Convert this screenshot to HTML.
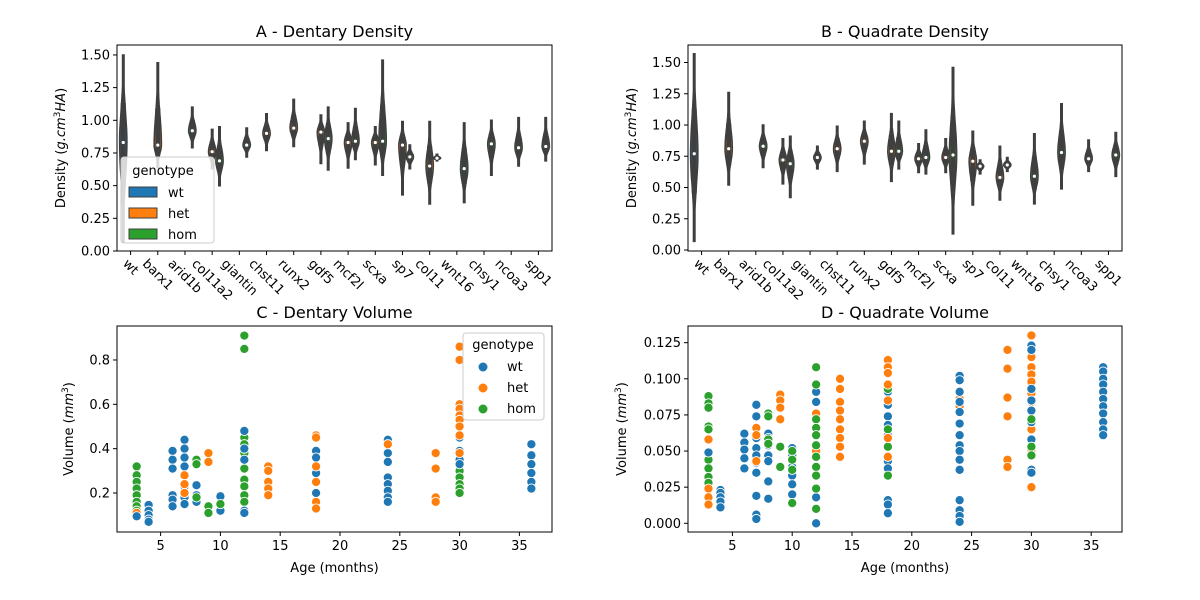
<!DOCTYPE html>
<html><head><meta charset="utf-8"><style>
body{margin:0;background:#fff}
svg{display:block;font-family:"DejaVu Sans","Liberation Sans",sans-serif}
</style></head><body>
<svg id="fig" width="1200" height="600" viewBox="0 0 1200 600">
<rect width="1200" height="600" fill="#fff"/>
</svg>
<script>
const cats = ["wt","barx1","arid1b","col11a2","giantin","chst11","runx2","gdf5","mcf2l","scxa","sp7","col11","wnt16","chsy1","ncoa3","spp1"];
// violins: [categoryIndex, hueSlot(-1 wt,0 het,1 hom), min, median, max]
const violinsA = [[0,-1,0.07,0.83,1.50],[1,0,0.64,0.81,1.44],[2,1,0.79,0.92,1.10],[3,0,0.63,0.76,0.93],[3,1,0.50,0.69,0.95],[4,1,0.72,0.81,0.94],[5,0,0.77,0.90,1.05],[6,0,0.80,0.94,1.16],[7,0,0.67,0.91,1.04],[7,1,0.62,0.86,1.10],[8,0,0.635,0.83,0.98],[8,1,0.70,0.84,1.09],[9,0,0.66,0.83,0.95],[9,1,0.58,0.84,1.46],[10,0,0.43,0.81,0.99],[10,1,0.63,0.72,0.81],[11,0,0.36,0.65,0.99],[11,1,0.69,0.71,0.74],[12,1,0.37,0.63,0.98],[13,1,0.58,0.82,1.00],[14,1,0.65,0.79,1.02],[15,1,0.69,0.80,1.02]];
const violinsB = [[0,-1,0.07,0.77,1.57],[1,0,0.52,0.81,1.26],[2,1,0.66,0.83,1.00],[3,0,0.53,0.72,0.89],[3,1,0.42,0.69,0.91],[4,1,0.65,0.74,0.83],[5,0,0.63,0.81,0.99],[6,0,0.69,0.87,1.03],[7,0,0.55,0.79,1.09],[7,1,0.65,0.79,1.03],[8,0,0.62,0.73,0.85],[8,1,0.61,0.74,0.96],[9,0,0.62,0.74,0.89],[9,1,0.13,0.76,1.46],[10,0,0.36,0.71,0.95],[10,1,0.61,0.67,0.72],[11,0,0.40,0.58,0.83],[11,1,0.63,0.68,0.74],[12,1,0.37,0.59,0.93],[13,1,0.49,0.78,1.17],[14,1,0.63,0.73,0.88],[15,1,0.59,0.76,0.94]];
// scatter C: [age, genotype(0 wt,1 het,2 hom), values...]
const volC = [
[3,2,0.32,0.28,0.25,0.22,0.19,0.16,0.14,0.12],[3,1,0.11],[3,0,0.095],
[4,0,0.146,0.12,0.10,0.08,0.07],
[6,0,0.39,0.35,0.31,0.19,0.17,0.14],
[7,0,0.44,0.40,0.36,0.32,0.23,0.18,0.15],[7,1,0.28,0.24,0.20],
[8,0,0.235,0.19,0.16],[8,2,0.35,0.33,0.18],
[9,1,0.38,0.34],[9,2,0.14,0.11],
[10,0,0.185,0.12],[10,2,0.15],
[12,2,0.91,0.85,0.45,0.42,0.38,0.31,0.26,0.23,0.19,0.16],[12,0,0.48,0.40,0.35,0.12,0.11],
[14,1,0.32,0.30,0.25,0.22,0.19],
[18,0,0.39,0.36,0.29,0.20],[18,1,0.46,0.45,0.32,0.25,0.16,0.13],
[24,0,0.44,0.38,0.34,0.27,0.24,0.21,0.18,0.16],[24,1,0.42],
[28,1,0.38,0.31,0.18,0.16],
[30,2,0.30,0.27,0.24,0.22,0.20],[30,0,0.45,0.39,0.35,0.33],[30,1,0.86,0.80,0.60,0.58,0.55,0.53,0.50,0.46,0.38],
[36,0,0.42,0.37,0.33,0.29,0.25,0.22]];
const volD = [
[3,2,0.088,0.083,0.080,0.067,0.065,0.044,0.038,0.032,0.028],[3,1,0.058,0.024,0.018,0.013],[3,0,0.049],
[4,0,0.023,0.021,0.018,0.015,0.011],
[6,0,0.062,0.056,0.051,0.045,0.038],
[7,0,0.082,0.074,0.059,0.052,0.047,0.042,0.035,0.019,0.006,0.003],[7,1,0.066,0.061,0.043],
[8,0,0.062,0.059,0.054,0.047,0.043,0.029,0.017],[8,2,0.076,0.074,0.058,0.055],
[9,1,0.089,0.085,0.080,0.072],[9,2,0.053,0.039],
[10,0,0.052,0.047,0.039,0.033,0.027,0.020],[10,2,0.050,0.044,0.037,0.014],
[12,0,0.091,0.084,0.018,0.000],[12,1,0.076,0.050],[12,2,0.108,0.096,0.072,0.066,0.061,0.054,0.046,0.039,0.033,0.024,0.010],
[14,1,0.100,0.093,0.084,0.078,0.072,0.065,0.059,0.053,0.046],
[18,0,0.091,0.082,0.074,0.068,0.061,0.043,0.038,0.016,0.013,0.007],[18,2,0.093,0.065,0.053,0.033],[18,1,0.113,0.108,0.104,0.096,0.085,0.059,0.046],
[24,1,0.086,0.081],[24,0,0.102,0.099,0.091,0.084,0.077,0.069,0.061,0.054,0.050,0.044,0.037,0.016,0.009,0.005,0.001],
[28,1,0.120,0.107,0.087,0.074,0.044,0.039],
[30,1,0.130,0.121,0.115,0.108,0.103,0.098,0.090,0.084,0.071,0.065,0.051,0.025],[30,0,0.123,0.120,0.093,0.085,0.078,0.070,0.058,0.037,0.035],[30,2,0.072,0.053,0.047],
[36,0,0.108,0.105,0.100,0.096,0.091,0.086,0.081,0.076,0.070,0.065,0.061]];
const ticksA = [0,0.25,0.5,0.75,1.0,1.25,1.5];
const ticksC = [0.2,0.4,0.6,0.8];
const ticksD = [0,0.025,0.05,0.075,0.1,0.125];
const ticksAge = [5,10,15,20,25,30,35];
const genos = ["wt","het","hom"];
const colors = ["#1f77b4","#ff7f0e","#2ca02c"];

const NS="http://www.w3.org/2000/svg";
const svg=document.getElementById('fig');
function el(tag,attrs,parent,text){const e=document.createElementNS(NS,tag);for(const k in attrs)e.setAttribute(k,attrs[k]);if(text!==undefined)e.textContent=text;(parent||svg).appendChild(e);return e;}

function panel(name){
  const g=el('g',{});
  
  
  return g;
}
function frame(g,L,T,R,B,title,tname){
  const r=el('rect',{x:L,y:T,width:R-L,height:B-T,fill:'none',stroke:'#000','stroke-width':1},g);
  
  const t=el('text',{x:(L+R)/2,y:T-8,'text-anchor':'middle','font-size':16},g,title);
  
}
function yAxis(g,ticks,ys,L,fmt){
  ticks.forEach(v=>{const y=ys(v);
    el('line',{x1:L-4,x2:L,y1:y,y2:y,stroke:'#000'},g);
    const t=el('text',{x:L-7,y:y+4.5,'text-anchor':'end','font-size':13},g,fmt(v));
    });
}
function yTitle(g,x,y,parts,name){
  const t=el('text',{transform:`translate(${x},${y}) rotate(-90)`,'text-anchor':'middle','font-size':13},g);
  parts.forEach(p=>{el('tspan',p[1]||{},t,p[0]);});
  
}

function violinPanel(L,R,T,B,y0px,vpu,data,title,tname,pname){
  const g=panel(pname);
  const ys=v=>y0px-v*vpu;
  const cw=(R-L)/cats.length;
  const cx=i=>L+cw*(i+0.5);
  data.forEach(d=>{
    const [ci,slot,mn,md,mx]=d;
    const x=cx(ci)+slot*cw*0.27;
    const W=3.6;
    const sl=(md-mn)/2.0, sh=(mx-md)/2.0;
    const hw=v=>{const s=v<md?sl:sh;return Math.max(0.7,W*Math.exp(-Math.pow((v-md)/(s||1e-6),2)));};
    const N=30,right=[],left=[];
    for(let k=0;k<=N;k++){const v=mn+(mx-mn)*k/N;const w=hw(v);right.push([x+w,ys(v)]);left.push([x-w,ys(v)]);}
    const pts=right.concat(left.reverse()).map(p=>p[0].toFixed(1)+','+p[1].toFixed(1)).join(' ');
    const vg=el('g',{},g);
    
    
    el('polygon',{points:pts,fill:colors[slot+1],stroke:'#3f3f3f','stroke-width':1.6},vg);
    el('line',{x1:x,x2:x,y1:ys(mn),y2:ys(mx),stroke:'#3f3f3f','stroke-width':1.5},vg);
    const q1=md-(md-mn)*0.45,q3=md+(mx-md)*0.45;
    el('line',{x1:x,x2:x,y1:ys(q1),y2:ys(q3),stroke:'#3f3f3f','stroke-width':5},vg);
    el('circle',{cx:x,cy:ys(md),r:1.6,fill:'#fff'},vg);
  });
  frame(g,L,T,R,B,title,tname);
  yAxis(g,ticksA,ys,L,v=>v.toFixed(2));
  cats.forEach((c,i)=>{
    const x=cx(i);
    el('line',{x1:x,x2:x,y1:B,y2:B+4,stroke:'#000'},g);
    const t=el('text',{'font-size':13,'text-anchor':'middle'},g,c);
    
    const w=t.getComputedTextLength();
    const cy=B+7+(w+10)*0.354;
    t.setAttribute('x',x);t.setAttribute('y',cy+4);
    t.setAttribute('transform',`rotate(45 ${x} ${cy})`);
  });
  yTitle(g,L-52,(T+B)/2,[['Density ('],['g.cm',{'font-style':'italic'}],['3',{'font-size':9,dy:-5}],['HA',{'font-style':'italic',dy:5}],[')']],'y-axis-title');
  return g;
}
violinPanel(117,552,45,251,251,130.7,violinsA,'A - Dentary Density','panel-a-title','panel-a');
violinPanel(688,1122,45,251,250,125,violinsB,'B - Quadrate Density','panel-b-title','panel-b');

// legend A
(function(){
  const g=el('g',{});
  el('rect',{x:121,y:157,width:93,height:86,rx:3,fill:'#fff','fill-opacity':0.8,stroke:'#ccc'},g);
  const t=el('text',{x:163,y:175,'text-anchor':'middle','font-size':13},g,'genotype');
  
  genos.forEach((n,i)=>{const y=187+i*21;
    const e=el('g',{},g);
    el('rect',{x:129,y:y,width:28,height:10,fill:colors[i],stroke:'#3f3f3f'},e);
    el('text',{x:168,y:y+10,'font-size':13},e,n);});
})();

function scatterPanel(L,R,T,B,x0px,y0px,vpu,data,ticks,fmt,title,tname,pname,ytx,ytitleParts){
  const g=panel(pname);
  const xs=a=>x0px+a*11.96;
  const ys=v=>y0px-v*vpu;
  data.forEach(d=>{
    const [age,gi]=d;
    d.slice(2).forEach(v=>{
      const c=el('circle',{cx:xs(age),cy:ys(v),r:4.6,fill:colors[gi],stroke:'#fff','stroke-width':0.9},g);
      
      
    });
  });
  frame(g,L,T,R,B,title,tname);
  yAxis(g,ticks,ys,L,fmt);
  ticksAge.forEach(a=>{const x=xs(a);
    el('line',{x1:x,x2:x,y1:B,y2:B+4,stroke:'#000'},g);
    const t=el('text',{x:x,y:B+18,'text-anchor':'middle','font-size':13},g,String(a));
    });
  const xt=el('text',{x:(L+R)/2,y:B+40,'text-anchor':'middle','font-size':13},g,'Age (months)');
  
  yTitle(g,ytx,(T+B)/2,ytitleParts,'y-axis-title');
  return g;
}
const volT=[['Volume ('],['mm',{'font-style':'italic'}],['3',{'font-size':9,dy:-5}],[')',{dy:5}]];
scatterPanel(117,552,326,532,100.8,493+0.2*221.7,221.7,volC,ticksC,v=>v.toFixed(1),'C - Dentary Volume','panel-c-title','panel-c',73,volT);
scatterPanel(688,1122,326,532,672.6,523.3,1445,volD,ticksD,v=>v.toFixed(3),'D - Quadrate Volume','panel-d-title','panel-d',626,volT);

// legend C
(function(){
  const g=el('g',{});
  el('rect',{x:463,y:333,width:81,height:87,rx:3,fill:'#fff','fill-opacity':0.8,stroke:'#ccc'},g);
  const t=el('text',{x:503,y:349,'text-anchor':'middle','font-size':13},g,'genotype');
  
  genos.forEach((n,i)=>{const y=367+i*21;
    const e=el('g',{},g);
    el('circle',{cx:483,cy:y,r:5,fill:colors[i],stroke:'#fff'},e);
    el('text',{x:507,y:y+4,'font-size':13},e,n);});
})();
</script>
</body></html>
